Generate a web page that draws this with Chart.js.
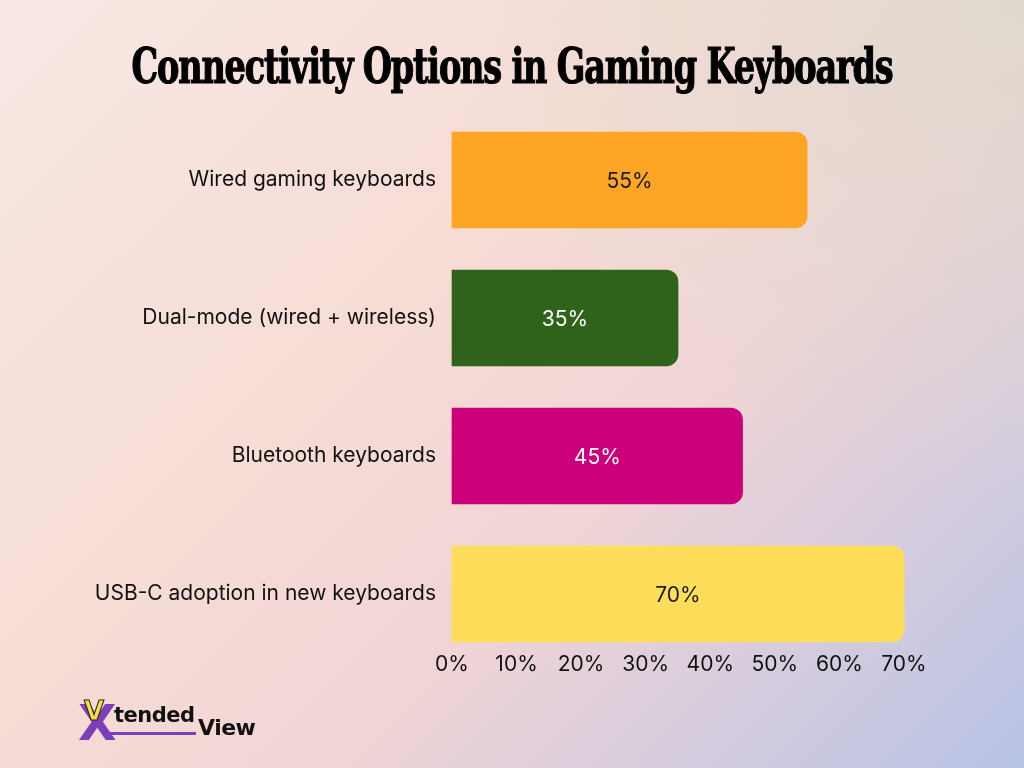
<!DOCTYPE html>
<html>
<head>
<meta charset="utf-8">
<script src="https://cdn.jsdelivr.net/npm/chart.js@4.4.0/dist/chart.umd.min.js"></script>
<style>
  html, body { margin: 0; padding: 0; }
  body {
    width: 1024px; height: 768px; overflow: hidden; position: relative;
    background:
      radial-gradient(ellipse 600px 500px at 1024px 0px, rgba(222,218,206,0.85), rgba(222,218,206,0) 100%),
      linear-gradient(135deg, #f9e8e4 0%, #f6dcd5 40%, #f0d4d6 62%, #b8c3e6 100%);
  }
  #chart { position: absolute; left: 0; top: 0; }
  #title {
    position: absolute; top: 38px; left: 512px; white-space: nowrap;
    font-family: "DejaVu Serif Condensed", "DejaVu Serif", serif; font-weight: bold;
    font-size: 48px; color: #000; letter-spacing: -1.5px;
    -webkit-text-stroke: 1.2px #000;
    transform-origin: 0 0;
  }
  #logo { position: absolute; left: 78px; top: 700px; height: 44px; width: 200px; }
  #logo .x { position: absolute; left: 0; top: -6px; font: 900 50px "DejaVu Sans", sans-serif; color: #7d3fb8; }
  #logo .v { position: absolute; left: 6px; top: -4px; font: bold 26px "DejaVu Sans", sans-serif; color: #f1e23c; -webkit-text-stroke: 1px #222; }
  #logo .t { position: absolute; left: 36px; top: 3px; font: bold 21px "DejaVu Sans", sans-serif; color: #111; letter-spacing: -0.5px; }
  #logo .u { position: absolute; left: 30px; top: 32px; width: 88px; height: 3px; background: #7d3fb8; }
  #logo .w { position: absolute; left: 120px; top: 15px; font: bold 22px "DejaVu Sans", sans-serif; color: #111; letter-spacing: -0.5px; }
</style>
</head>
<body>
<canvas id="chart" width="1024" height="768"></canvas>
<div id="title">Connectivity Options in Gaming Keyboards</div>
<div id="logo"><span class="x">X</span><span class="v">V</span><span class="t">tended</span><div class="u"></div><span class="w">View</span></div>
<script>
const categories = ['Wired gaming keyboards', 'Dual-mode (wired + wireless)', 'Bluetooth keyboards', 'USB-C adoption in new keyboards'];
const shares = [55, 35, 45, 70];
const barColors = ['#fea526', '#2e6319', '#cc007a', '#fedd5b'];
const valueColors = ['#1a1a1a', '#ffffff', '#ffffff', '#1a1a1a'];
const tickValues = [0, 10, 20, 30, 40, 50, 60, 70];

// fit the title to the reference width
const title = document.getElementById('title');
const tw = title.getBoundingClientRect().width;
const sx = 761 / tw;
title.style.transform = 'scaleX(' + sx + ') translateX(-50%)';

const valueLabels = {
    id: 'valueLabels',
    afterDatasetsDraw(chart) {
        const { ctx } = chart;
        const meta = chart.getDatasetMeta(0);
        ctx.save();
        ctx.font = '21px Inter';
        ctx.textAlign = 'center';
        ctx.textBaseline = 'middle';
        meta.data.forEach((bar, i) => {
            ctx.fillStyle = valueColors[i];
            ctx.fillText(shares[i] + '%', (bar.x + bar.base) / 2, bar.y + 2);
        });
        ctx.restore();
    }
};

new Chart(document.getElementById('chart'), {
    type: 'bar',
    data: {
        labels: categories,
        datasets: [{
            data: shares,
            backgroundColor: barColors,
            borderRadius: 12,
            borderSkipped: 'start',
            barThickness: 96,
            clip: false,
        }],
    },
    options: {
        indexAxis: 'y',
        responsive: false,
        animation: false,
        layout: { padding: { top: 180, right: 120, bottom: 74, left: 0 } },
        plugins: { legend: { display: false }, tooltip: { enabled: false } },
        scales: {
            x: {
                min: 0, max: 70,
                afterFit: s => { s.height = 100; },
                afterBuildTicks: s => { s.ticks = tickValues.map(v => ({ value: v })); },
                grid: { display: false, drawTicks: false },
                border: { display: false },
                ticks: { color: '#111', font: { family: 'Inter', size: 21 }, padding: 58, callback: v => v + '%' },
            },
            y: {
                offset: false,
                afterFit: s => { s.width = 452; },
                grid: { display: false, drawTicks: false },
                border: { display: false },
                ticks: { color: '#111', font: { family: 'Inter', size: 21 }, padding: 16 },
            },
        },
    },
    plugins: [valueLabels],
});
</script>
</body>
</html>
